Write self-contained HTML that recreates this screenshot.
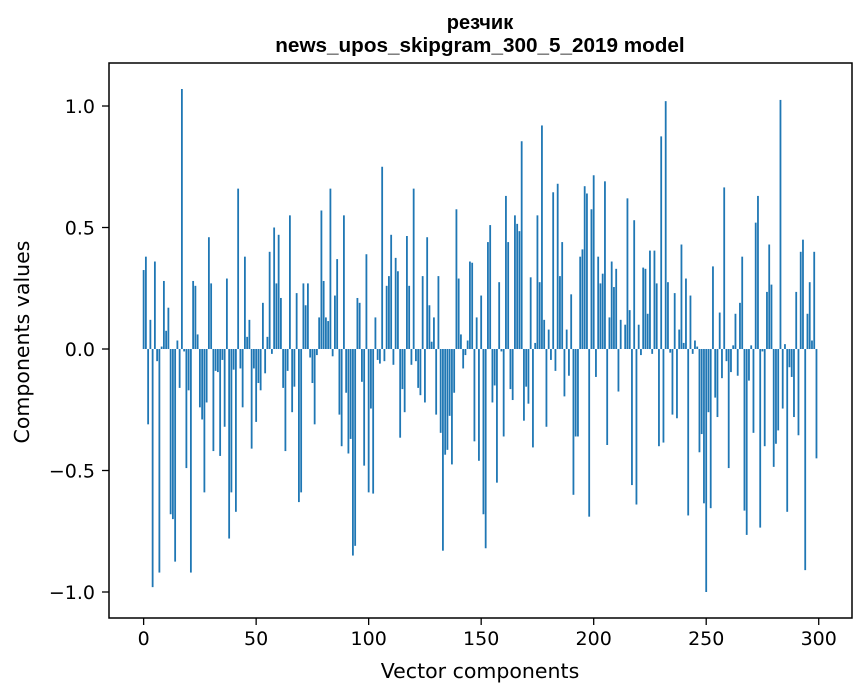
<!DOCTYPE html>
<html><head><meta charset="utf-8"><style>
html,body{margin:0;padding:0;background:#fff;}
svg{display:block;font-family:"DejaVu Sans","Liberation Sans",sans-serif;}
</style></head><body>
<svg id="chart" width="867" height="696" viewBox="0 0 867 696" xmlns="http://www.w3.org/2000/svg">
<rect width="867" height="696" fill="#fff"/>
<text x="480" y="29" text-anchor="middle" font-size="20" font-weight="bold" font-family="Liberation Sans, sans-serif">резчик</text>
<text x="480" y="52" text-anchor="middle" font-size="20.7" font-weight="bold" font-family="Liberation Sans, sans-serif">news_upos_skipgram_300_5_2019 model</text>
<g id="bars"></g>
<g id="xticks"></g>
<g id="yticks"></g>
<rect x="109" y="63" width="743" height="555" fill="none" stroke="#000" stroke-width="1.5"/>
<text x="480" y="678" text-anchor="middle" font-size="20.5">Vector components</text>
<text transform="translate(29,342) rotate(-90)" text-anchor="middle" font-size="20.5">Components values</text>
</svg>
<script>
const values = [
0.325,0.38,-0.31,0.12,-0.98,0.36,-0.05,-0.92,0.01,0.28,
0.075,0.17,-0.68,-0.70,-0.875,0.035,-0.16,1.07,-0.01,-0.49,
-0.17,-0.92,0.28,0.26,0.06,-0.24,-0.29,-0.59,-0.22,0.46,
0.27,-0.42,-0.09,-0.095,-0.44,-0.045,-0.32,0.29,-0.78,-0.59,
-0.085,-0.67,0.66,-0.08,-0.24,0.38,0.05,0.12,-0.41,-0.08,
-0.30,-0.14,-0.17,0.19,-0.10,0.05,0.40,-0.02,0.50,0.27,
0.47,0.21,-0.16,-0.42,-0.09,0.55,-0.26,-0.155,0.23,-0.63,
-0.59,0.27,0.18,0.27,-0.035,-0.14,-0.31,-0.025,0.13,0.57,
0.28,0.13,0.115,0.66,-0.03,0.22,0.37,-0.27,-0.40,0.55,
-0.18,-0.43,-0.37,-0.85,-0.81,0.21,0.19,-0.135,-0.48,0.39,
-0.59,-0.245,-0.595,0.13,-0.045,-0.06,0.75,-0.05,0.26,0.30,
0.47,-0.065,0.375,0.32,-0.365,-0.165,-0.26,0.465,0.26,-0.065,
0.66,-0.05,-0.16,-0.19,0.30,-0.22,0.46,0.18,0.03,0.13,
-0.27,0.30,-0.345,-0.83,-0.435,-0.415,-0.275,-0.475,-0.18,0.575,
0.29,0.06,-0.08,-0.025,0.035,0.36,0.355,-0.38,0.13,-0.46,
0.22,-0.68,-0.82,0.44,0.51,-0.22,-0.15,-0.55,0.275,-0.01,
-0.36,0.63,0.44,-0.165,-0.21,0.55,0.515,0.485,0.855,-0.295,
-0.155,-0.225,0.295,-0.405,0.025,0.55,0.275,0.92,0.12,-0.32,
0.08,-0.045,0.645,-0.09,0.68,0.30,0.44,-0.195,0.08,-0.11,
0.225,-0.60,-0.36,-0.36,0.38,0.41,0.67,0.64,-0.69,0.575,
0.715,-0.115,0.38,0.27,0.31,0.69,-0.395,0.13,0.36,0.255,
0.33,-0.175,0.12,0.0,0.10,0.62,0.16,-0.56,0.53,-0.64,
0.10,-0.025,0.335,0.33,0.145,0.405,-0.02,0.405,0.27,-0.40,
0.875,-0.385,1.02,0.275,-0.015,-0.27,0.23,-0.285,0.08,0.43,
0.025,0.29,-0.685,0.22,-0.02,0.035,0.01,-0.425,-0.35,-0.635,
-1.0,-0.26,-0.655,0.34,-0.20,-0.28,0.15,-0.12,0.665,-0.05,
-0.49,-0.095,0.015,0.145,-0.11,0.19,0.38,-0.665,-0.765,-0.13,
0.015,-0.345,0.52,0.63,-0.735,-0.01,-0.40,0.235,0.43,0.265,
-0.485,-0.39,-0.335,1.025,-0.245,0.02,-0.67,-0.075,-0.115,-0.28,
0.235,-0.355,0.40,0.45,-0.91,0.145,0.275,0.035,0.40,-0.45
];
const xTickLabels = ["0","50","100","150","200","250","300"];
const xTickValues = [0,50,100,150,200,250,300];
const yTickLabels = ["\u22121.0","\u22120.5","0.0","0.5","1.0"];
const yTickValues = [-1.0,-0.5,0.0,0.5,1.0];

const NS="http://www.w3.org/2000/svg";
const L=109,R=852,T=63,B=618;
const xmin=-15.39,xmax=314.79;
const ymin=-1.107,ymax=1.177;
function xs(v){return L+(v-xmin)/(xmax-xmin)*(R-L);}
function ys(v){return B-(v-ymin)/(ymax-ymin)*(B-T);}
const bars=document.getElementById('bars');
values.forEach((v,i)=>{
  const r=document.createElementNS(NS,'rect');
  const x0=xs(i-0.4),x1=xs(i+0.4);
  const y0=ys(Math.max(v,0)),y1=ys(Math.min(v,0));
  r.setAttribute('x',x0);r.setAttribute('width',x1-x0);
  r.setAttribute('y',y0);r.setAttribute('height',Math.max(y1-y0,0));
  r.setAttribute('fill','#1f77b4');
  
  
  bars.appendChild(r);
});
const xg=document.getElementById('xticks');
xTickValues.forEach((v,i)=>{
  const x=xs(v);
  const l=document.createElementNS(NS,'line');
  l.setAttribute('x1',x);l.setAttribute('x2',x);l.setAttribute('y1',B);l.setAttribute('y2',B+7);
  l.setAttribute('stroke','#000');l.setAttribute('stroke-width','1.3');
  
  
  xg.appendChild(l);
  const t=document.createElementNS(NS,'text');
  t.setAttribute('x',x);t.setAttribute('y',B+27);t.setAttribute('text-anchor','middle');t.setAttribute('font-size','19');
  t.textContent=xTickLabels[i];
  
  
  xg.appendChild(t);
});
const yg=document.getElementById('yticks');
yTickValues.forEach((v,i)=>{
  const y=ys(v);
  const l=document.createElementNS(NS,'line');
  l.setAttribute('x1',L-7);l.setAttribute('x2',L);l.setAttribute('y1',y);l.setAttribute('y2',y);
  l.setAttribute('stroke','#000');l.setAttribute('stroke-width','1.3');
  
  
  yg.appendChild(l);
  const t=document.createElementNS(NS,'text');
  t.setAttribute('x',L-14);t.setAttribute('y',y+7);t.setAttribute('text-anchor','end');t.setAttribute('font-size','19');
  t.textContent=yTickLabels[i];
  
  
  yg.appendChild(t);
});
</script>
</body></html>
